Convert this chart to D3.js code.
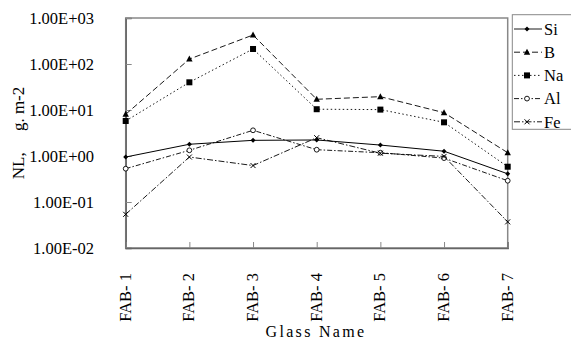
<!DOCTYPE html>
<html><head><meta charset="utf-8">
<script src="https://cdn.jsdelivr.net/npm/d3@7"></script>
<style>body{margin:0;background:#fff}svg{display:block}</style>
</head><body><svg id="c" width="571" height="340" font-family="'Liberation Serif', 'Times New Roman', Times, serif"></svg>
<script>
const categories = ["FAB- 1","FAB- 2","FAB- 3","FAB- 4","FAB- 5","FAB- 6","FAB- 7"];
const seriesNames = ["Si","B","Na","Al","Fe"];
const Si = [0.95, 1.8, 2.19, 2.23, 1.73, 1.27, 0.41];
const B  = [8.07, 128, 427, 17.1, 19.5, 8.74, 1.18];
const Na = [5.77, 40, 212, 10.4, 10.2, 5.4, 0.585];
const Al = [0.53, 1.33, 3.62, 1.37, 1.18, 0.9, 0.29];
const Fe = [0.054, 0.95, 0.62, 2.5, 1.15, 0.98, 0.037];
const yTicks = [1e3, 1e2, 1e1, 1e0, 1e-1, 1e-2];
const yTickLabels = ["1.00E+03","1.00E+02","1.00E+01","1.00E+00","1.00E-01","1.00E-02"];

const seriesData = {Si, B, Na, Al, Fe};
const dashes = {Si:null, B:"6,3", Na:"1.5,2.5", Al:"5,2,1.5,2", Fe:"6,2,1.5,2"};
const FF = "'Liberation Serif', 'Times New Roman', Times, serif";

const svg = d3.select("#c");
const L=125.7, R=507.7, T=18, Bt=248;
const x = d3.scalePoint().domain(categories).range([L,R]);
const y = d3.scaleLog().domain([0.01,1000]).range([Bt,T]);

svg.append("rect").attr("x",L).attr("y",T).attr("width",R-L).attr("height",Bt-T)
  .attr("fill","none").attr("stroke","#888").attr("stroke-width",1.5);
const ya = svg.append("g").attr("transform",`translate(${L},0)`)
  .call(d3.axisRight(y).tickValues(yTicks).tickSize(6).tickFormat(""));
ya.select(".domain").attr("stroke","#666").attr("stroke-width",1.5);
ya.selectAll(".tick line").attr("stroke","#888");
const xa = svg.append("g").attr("transform",`translate(0,${Bt})`)
  .call(d3.axisTop(x).tickSize(6).tickFormat(""));
xa.select(".domain").attr("stroke","#666").attr("stroke-width",1.5);
xa.selectAll(".tick line").attr("stroke","#888");

svg.append("g").selectAll("text").data(yTicks).join("text")
  .attr("font-family",FF).attr("x",94).attr("y",d=>y(d)).attr("dy","0.35em").attr("text-anchor","end")
  .attr("font-size",16.5).text((d,i)=>yTickLabels[i]);
svg.append("g").selectAll("text").data(categories).join("text")
  .attr("font-family",FF).attr("transform",d=>`translate(${x(d)+5},273) rotate(-90)`)
  .attr("text-anchor","end").attr("font-size",16.5).text(d=>d);
svg.append("text").attr("font-family",FF).attr("transform","translate(24,133) rotate(-90)")
  .attr("text-anchor","middle").attr("font-size",17)
  .style("white-space","pre").text("NL,     g. m-2");
svg.append("text").attr("font-family",FF).attr("x",316).attr("y",337).attr("text-anchor","middle")
  .attr("font-size",16).attr("letter-spacing","2.3px").text("Glass Name");

const line = d3.line().x((d,i)=>x(categories[i])).y(d=>y(d));

function marker(g, name, cx, cy){
  if(name==="Si") g.append("path").attr("d",`M${cx},${cy-2.5}L${cx+2.5},${cy}L${cx},${cy+2.5}L${cx-2.5},${cy}Z`).attr("fill","#000");
  else if(name==="B") g.append("path").attr("d",`M${cx},${cy-3.5}L${cx+3.2},${cy+2.5}L${cx-3.2},${cy+2.5}Z`).attr("fill","#000");
  else if(name==="Na") g.append("rect").attr("x",cx-3).attr("y",cy-3).attr("width",6).attr("height",6).attr("fill","#000");
  else if(name==="Al") g.append("circle").attr("cx",cx).attr("cy",cy).attr("r",2.4).attr("fill","#fff").attr("stroke","#000").attr("stroke-width",0.9);
  else if(name==="Fe") g.append("path").attr("d",`M${cx-2.5},${cy-2.5}L${cx+2.5},${cy+2.5}M${cx-2.5},${cy+2.5}L${cx+2.5},${cy-2.5}`).attr("stroke","#000").attr("stroke-width",1);
}

seriesNames.forEach(name=>{
  const vals = seriesData[name];
  svg.append("path").datum(vals).attr("d",line).attr("fill","none")
    .attr("stroke","#000").attr("stroke-width",name==="Si"?1:0.9)
    .attr("stroke-dasharray",dashes[name]);
  const g = svg.append("g");
  vals.forEach((v,i)=>marker(g,name,x(categories[i]),y(v)));
});

const lg = svg.append("g");
lg.append("rect").attr("x",512.3).attr("y",14.7).attr("width",64).attr("height",114.6)
  .attr("fill","#fff").attr("stroke","#888").attr("stroke-width",1);
seriesNames.forEach((name,i)=>{
  const yy = 29 + i*23.2;
  lg.append("line").attr("x1",514).attr("x2",542).attr("y1",yy).attr("y2",yy)
    .attr("stroke","#000").attr("stroke-width",0.9).attr("stroke-dasharray",dashes[name]);
  marker(lg,name,527,yy);
  lg.append("text").attr("font-family",FF).attr("x",544).attr("y",yy).attr("dy","0.35em").attr("font-size",16.5).text(name);
});
</script></body></html>
